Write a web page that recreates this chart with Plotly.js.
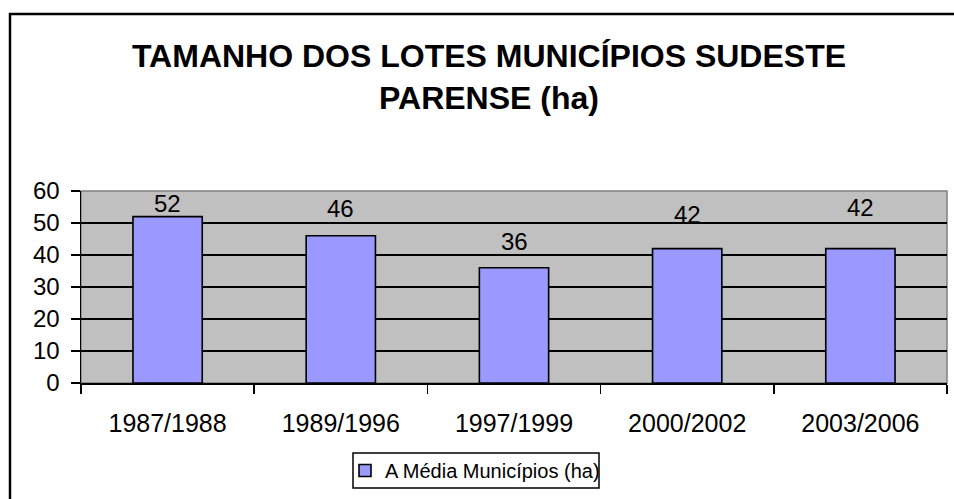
<!DOCTYPE html>
<html>
<head>
<meta charset="utf-8">
<script src="https://cdn.plot.ly/plotly-3.0.1.min.js"></script>
<style>html,body{margin:0;padding:0;background:#fff}#chart{width:954px;height:499px}</style>
</head>
<body>
<div id="chart"></div>
<script>
var categories = ["1987/1988", "1989/1996", "1997/1999", "2000/2002", "2003/2006"];
var values = [52, 46, 36, 42, 42];
var seriesName = "A Média Municípios (ha)";
var yTicks = [0, 10, 20, 30, 40, 50, 60];
var titleText = "TAMANHO DOS LOTES MUNICÍPIOS SUDESTE<br>PARENSE (ha)";

// style: extra pixel lift of each data label above its bar
var labelLift = [0, 14, 13, 21, 28];

var FONT = "Liberation Sans, Arial, sans-serif";

var trace = {
  type: "bar",
  x: categories,
  y: values,
  name: seriesName,
  marker: {color: "#9999FF", line: {color: "#000000", width: 1.6}},
  showlegend: true,
  hoverinfo: "x+y"
};

var annotations = categories.map(function (c, i) {
  return {
    x: c, y: values[i], xref: "x", yref: "y",
    text: String(values[i]), showarrow: false,
    yanchor: "bottom", yshift: labelLift[i] - 2,
    font: {family: FONT, size: 24, color: "#000"}
  };
});

var L = 81, R = 7, T = 191, B = 116, W = 954, H = 499;
var pw = W - L - R, ph = H - T - B;
function px2x(p) { return (p - L) / pw; }
function py2y(p) { return (H - B - p) / ph; }

var layout = {
  width: W, height: H,
  margin: {l: L, r: R, t: T, b: B, autoexpand: false},
  paper_bgcolor: "#ffffff",
  plot_bgcolor: "#C0C0C0",
  bargap: 0.6,
  font: {family: FONT, size: 20, color: "#000"},
  title: {
    text: titleText,
    font: {family: FONT, size: 32, color: "#000", weight: "bold"},
    x: 489 / W, xanchor: "center", xref: "container",
    y: 1 - 67 / H, yanchor: "middle", yref: "container"
  },
  xaxis: {
    type: "category",
    tickson: "boundaries",
    ticks: "outside", ticklen: 9, tickwidth: 1.5, tickcolor: "#000",
    showline: true, linecolor: "#000", linewidth: 1.5,
    showgrid: false, zeroline: false,
    ticklabelstandoff: 17,
    tickfont: {family: FONT, size: 25, color: "#000"}
  },
  yaxis: {
    range: [0, 60],
    tickvals: yTicks,
    ticks: "outside", ticklen: 9, tickwidth: 1.5, tickcolor: "#000",
    showline: true, linecolor: "#000", linewidth: 1.5,
    showgrid: true, gridcolor: "#000", gridwidth: 1.5,
    zeroline: false,
    ticklabelstandoff: 6,
    tickfont: {family: FONT, size: 24, color: "#000"}
  },
  legend: {
    x: px2x(345), y: py2y(470.5), xanchor: "left", yanchor: "middle",
    xref: "paper", yref: "paper",
    borderwidth: 0, bgcolor: "rgba(0,0,0,0)",
    font: {family: FONT, size: 20, color: "#000"},
    itemwidth: 30
  },
  annotations: annotations,
  shapes: [
    {type: "rect", xref: "paper", yref: "paper", x0: 0, x1: 1, y0: 0, y1: 1,
     line: {color: "#808080", width: 1.5}, layer: "below"},
    {type: "rect", xref: "paper", yref: "paper",
     x0: px2x(353), x1: px2x(599), y0: py2y(488), y1: py2y(453),
     line: {color: "#000", width: 1.5}, fillcolor: "#fff", layer: "below"},
    {type: "rect", xref: "paper", yref: "paper",
     x0: px2x(10), x1: px2x(975), y0: py2y(14), y1: py2y(530),
     line: {color: "#000", width: 2.5}, fillcolor: "rgba(0,0,0,0)"}
  ]
};

Plotly.newPlot("chart", [trace], layout, {displayModeBar: false, staticPlot: true});
</script>
</body>
</html>
